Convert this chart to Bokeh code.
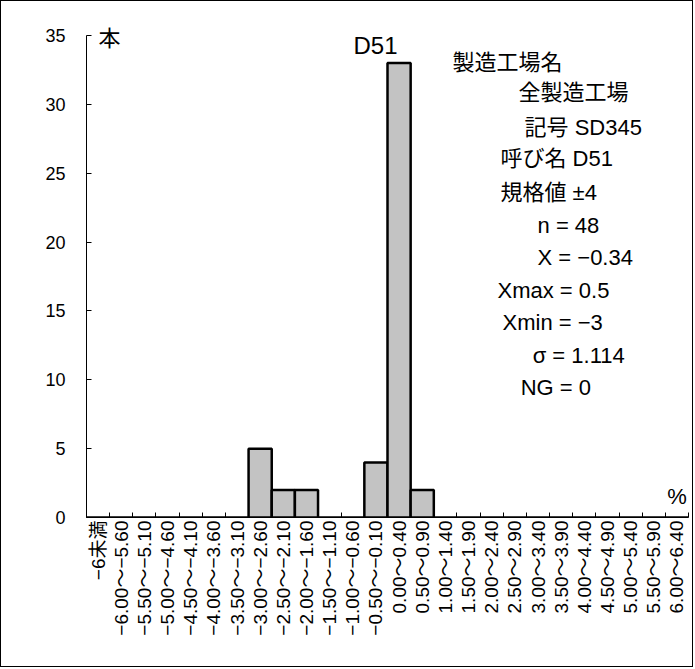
import math
from bokeh.plotting import figure
from bokeh.models import Range1d, LinearAxis, FixedTicker, Label, CustomJSTickFormatter
from bokeh.embed import file_html
from bokeh.resources import INLINE

# ---------------- data ----------------
categories = [
    "−6未満",
    "−6.00～−5.60", "−5.50～−5.10", "−5.00～−4.60", "−4.50～−4.10",
    "−4.00～−3.60", "−3.50～−3.10", "−3.00～−2.60", "−2.50～−2.10",
    "−2.00～−1.60", "−1.50～−1.10", "−1.00～−0.60", "−0.50～−0.10",
    "0.00～0.40", "0.50～0.90", "1.00～1.40", "1.50～1.90",
    "2.00～2.40", "2.50～2.90", "3.00～3.40", "3.50～3.90",
    "4.00～4.40", "4.50～4.90", "5.00～5.40", "5.50～5.90", "6.00～6.40",
]
counts = [0, 0, 0, 0, 0, 0, 0, 5, 2, 2, 0, 0, 4, 33, 2, 0, 0, 0, 0, 0, 0, 0, 0, 0, 0, 0]
y_ticks = [0, 5, 10, 15, 20, 25, 30, 35]
title_text = "D51"
y_unit = "本"
x_unit = "%"
info_lines = [
    "製造工場名", "全製造工場", "記号 SD345", "呼び名 D51", "規格値 ±4",
    "n = 48", "X = −0.34", "Xmax = 0.5", "Xmin = −3", "σ = 1.114", "NG = 0",
]

# ---------------- styling / layout ----------------
FONT = "Liberation Sans, Noto Sans CJK JP"
n_cat = len(categories)
idx = list(range(n_cat))                       # category slots on the x scale
edges = [i - 0.5 for i in range(n_cat + 1)]    # slot boundaries
y_axis_max = y_ticks[-1]

p = figure(
    x_range=Range1d(-0.5, n_cat - 0.5),
    y_range=Range1d(0, 36.6),
    width=693, height=667,
    output_backend="svg", toolbar_location=None,
    min_border_left=85, min_border_right=6, min_border_top=12, min_border_bottom=151,
)
p.styles = {"border": "1px solid #000"}
p.outline_line_color = None
p.xgrid.grid_line_color = None
p.ygrid.grid_line_color = None
p.background_fill_color = "white"
p.border_fill_color = "white"

p.vbar(x=idx, top=counts, width=1.0, fill_color="#c3c3c3",
       line_color="black", line_width=2.5)

# y axis (line stops at 35; space above is for the unit / title)
yax = p.yaxis[0]
yax.ticker = FixedTicker(ticks=y_ticks)
yax.bounds = (0, y_axis_max)
yax.major_tick_in = 5
yax.major_tick_out = 0
yax.minor_tick_line_color = None
yax.major_label_standoff = 21
yax.major_label_text_font = FONT
yax.major_label_text_font_size = "18px"
yax.major_label_text_color = "black"
yax.axis_line_color = "black"

# boundary tick axis (closest to plot): line + ticks at slot edges, no labels
eax = p.xaxis[0]
eax.ticker = FixedTicker(ticks=edges)
eax.formatter = CustomJSTickFormatter(code="return ''")
eax.major_tick_in = 5
eax.major_tick_out = 0
eax.minor_tick_line_color = None
eax.major_label_standoff = 0
eax.axis_line_color = "black"

# category label axis (text reads bottom-to-top, ending at the axis)
cax = LinearAxis(ticker=FixedTicker(ticks=idx))
cax.major_label_overrides = {i: c for i, c in zip(idx, categories)}
cax.major_tick_in = 0
cax.major_tick_out = 0
cax.minor_tick_line_color = None
cax.axis_line_color = None
cax.major_label_orientation = math.pi / 2
cax.major_label_standoff = 3
cax.major_label_text_font = FONT
cax.major_label_text_font_size = "19px"
cax.major_label_text_color = "black"
p.add_layout(cax, "below")

# annotations (positions in x-slot / value units)
def lab(x, y, text, size="22px", align="left"):
    p.add_layout(Label(x=x, y=y, text=text,
                       text_font=FONT, text_font_size=size, text_color="black",
                       text_align=align, text_baseline="middle"))

lab(0.02, 34.78, y_unit, size="22px")
lab(25.0, 1.52, x_unit, size="22px", align="center")
lab(11.98, 34.28, title_text, size="24px", align="center")

info_pos = [
    (15.31, 33.04), (18.16, 30.86), (18.42, 28.32), (17.38, 26.07), (17.38, 23.60),
    (18.98, 21.20), (18.98, 18.88), (17.25, 16.48), (17.47, 14.16), (18.77, 11.76),
    (18.25, 9.44),
]
for (x, y), t in zip(info_pos, info_lines):
    lab(x, y, t)

open("out.html", "w").write(file_html(p, INLINE))
